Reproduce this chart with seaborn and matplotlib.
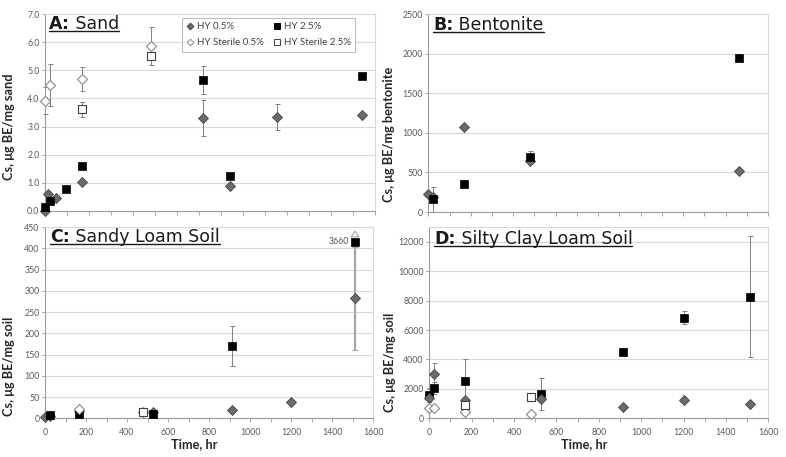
import numpy as np
import pandas as pd
import matplotlib
matplotlib.use("Agg")
import matplotlib.pyplot as plt
import seaborn as sns
from matplotlib.lines import Line2D
from matplotlib.ticker import MultipleLocator, FormatStrFormatter, NullFormatter
from matplotlib.transforms import IdentityTransform

# ---------------- data ----------------
SERIES = ["HY 0.5%", "HY 2.5%", "HY Sterile 0.5%", "HY Sterile 2.5%"]

# Panel A: Sand
A_hy05_x = [0, 12, 48, 168, 720, 840, 1056, 1440]
A_hy05_y = [0.0, 0.62, 0.45, 1.03, 3.30, 0.90, 3.33, 3.41]
A_hy05_e = [0, 0, 0, 0, 0.64, 0, 0.46, 0]
A_hy25_x = [0, 24, 96, 168, 720, 840, 1440]
A_hy25_y = [0.15, 0.37, 0.79, 1.60, 4.64, 1.23, 4.81]
A_hy25_e = [0, 0, 0, 0, 0.50, 0, 0]
A_st05_x = [0, 24, 168, 480]
A_st05_y = [3.92, 4.48, 4.69, 5.86]
A_st05_e = [0.47, 0.74, 0.43, 0.67]
A_st25_x = [168, 480]
A_st25_y = [3.61, 5.51]
A_st25_e = [0.26, 0.32]

# Panel B: Bentonite
B_hy05_x = [0, 24, 168, 480, 1464]
B_hy05_y = [223, 190, 1075, 650, 520]
B_hy05_e = [0, 0, 0, 0, 0]
B_hy25_x = [24, 168, 480, 1464]
B_hy25_y = [160, 350, 700, 1940]
B_hy25_e = [155, 0, 75, 0]

# Panel C: Sandy Loam Soil
C_hy05_x = [0, 24, 168, 528, 912, 1200, 1512]
C_hy05_y = [2, 6, 17, 15, 20, 38, 282]
C_hy05_e = [0, 0, 0, 0, 0, 0, 121]
C_hy25_x = [24, 168, 528, 912, 1512]
C_hy25_y = [8, 9, 9, 170, 3660]
C_hy25_e = [0, 0, 0, 47, 0]
C_st05_x = [168, 480]
C_st05_y = [21, 15]
C_st05_e = [0, 3]
C_st25_x = [480]
C_st25_y = [14]
C_st25_e = [3]
C_CLIP = 415          # off-scale value drawn at the top of the axis
C_OFFSCALE_LABEL = "3660"

# Panel D: Silty Clay Loam Soil
D_hy05_x = [0, 24, 168, 528, 912, 1200, 1512]
D_hy05_y = [1360, 2990, 1240, 1290, 790, 1240, 950]
D_hy05_e = [0, 750, 0, 0, 0, 0, 0]
D_hy25_x = [0, 24, 168, 528, 912, 1200, 1512]
D_hy25_y = [1580, 2080, 2530, 1630, 4500, 6840, 8260]
D_hy25_e = [500, 400, 1480, 1090, 0, 450, 4120]
D_st05_x = [0, 24, 168, 480]
D_st05_y = [680, 720, 450, 270]
D_st05_e = [0, 0, 150, 100]
D_st25_x = [168, 480]
D_st25_y = [900, 1430]
D_st25_e = [300, 150]

# ---------------- style ----------------
sns.set_theme(style="white")
plt.rcParams["font.family"] = ["Lato", "DejaVu Sans"]

STYLE = {
    "HY 0.5%": dict(marker="D", s=26, color="#6b6b6b", edgecolor="#454545", linewidth=0.6),
    "HY 2.5%": dict(marker="s", s=36, color="#000000", edgecolor="#000000", linewidth=0.5),
    "HY Sterile 0.5%": dict(marker="D", s=26, color="#ffffff", edgecolor="#8a8a8a", linewidth=0.8),
    "HY Sterile 2.5%": dict(marker="s", s=40, color="#ffffff", edgecolor="#404040", linewidth=0.8),
}

W, H = 786, 457
fig = plt.figure(figsize=(W / 100, H / 100), dpi=100)

def px_axes(l, t, r, b):
    return fig.add_axes([l / W, 1 - b / H, (r - l) / W, (b - t) / H])

axA = px_axes(45, 14, 375, 211)
axB = px_axes(428.3, 14, 768, 212)
axC = px_axes(45, 227, 373, 418.3)
axD = px_axes(429.3, 227, 768.3, 418.3)

TICK_C = "#595959"

def style_ax(ax, xmax, ymax, ystep, yfmt, xlabels, xmajor):
    ax.set_xlim(0, xmax)
    ax.set_ylim(0, ymax)
    ax.yaxis.set_major_locator(MultipleLocator(ystep))
    ax.yaxis.set_major_formatter(FormatStrFormatter(yfmt))
    ax.xaxis.set_major_locator(MultipleLocator(xmajor))
    ax.xaxis.set_minor_locator(MultipleLocator(100))
    if not xlabels:
        ax.xaxis.set_major_formatter(NullFormatter())
    ax.grid(axis="y", color="#d9d9d9", lw=0.8)
    ax.grid(axis="x", visible=False)
    ax.set_axisbelow(True)
    for side in ["top", "right"]:
        ax.spines[side].set_color("#d9d9d9")
        ax.spines[side].set_linewidth(0.8)
    for side in ["left", "bottom"]:
        ax.spines[side].set_color("#9a9a9a")
        ax.spines[side].set_linewidth(0.8)
    ax.tick_params(axis="x", which="both", direction="out", length=3, width=0.6,
                   color="#9a9a9a", labelsize=6.3, labelcolor=TICK_C, pad=4, bottom=True)
    ax.tick_params(axis="y", which="both", direction="out", length=2, width=0.6,
                   color="#9a9a9a", labelsize=6.3, labelcolor=TICK_C, pad=2, left=True)
    ax.set_xlabel("")
    ax.set_ylabel("")

def plot(ax, name, x, y, e=None, clip=None):
    yy = list(y) if clip is None else [min(v, clip) for v in y]
    if e is not None and any(v > 0 for v in e):
        xs = [a for a, v in zip(x, e) if v > 0]
        ys = [b for b, v in zip(yy, e) if v > 0]
        es = [v for v in e if v > 0]
        ax.errorbar(xs, ys, yerr=es, fmt="none", ecolor="#7f7f7f", elinewidth=0.7,
                    capsize=1.8, capthick=0.7, zorder=2, clip_on=False)
    df = pd.DataFrame({"x": x, "y": yy})
    sns.scatterplot(data=df, x="x", y="y", ax=ax, legend=False, zorder=3,
                    clip_on=False, **STYLE[name])

# Panel A
plot(axA, "HY 0.5%", A_hy05_x, A_hy05_y, A_hy05_e)
plot(axA, "HY 2.5%", A_hy25_x, A_hy25_y, A_hy25_e)
plot(axA, "HY Sterile 0.5%", A_st05_x, A_st05_y, A_st05_e)
plot(axA, "HY Sterile 2.5%", A_st25_x, A_st25_y, A_st25_e)
style_ax(axA, 1500, 7.0, 1.0, "%.1f", False, 100)

# Panel B
plot(axB, "HY 0.5%", B_hy05_x, B_hy05_y, B_hy05_e)
plot(axB, "HY 2.5%", B_hy25_x, B_hy25_y, B_hy25_e)
style_ax(axB, 1600, 2500, 500, "%d", False, 200)

# Panel C
axC.errorbar([C_hy05_x[-1]], [C_hy05_y[-1]], yerr=[C_hy05_e[-1]], fmt="none",
             ecolor="#a6a6a6", elinewidth=1.6, capsize=2, capthick=0.8, zorder=2)
plot(axC, "HY 0.5%", C_hy05_x, C_hy05_y, [0] * len(C_hy05_e))
plot(axC, "HY 2.5%", C_hy25_x, C_hy25_y, C_hy25_e, clip=C_CLIP)
plot(axC, "HY Sterile 0.5%", C_st05_x, C_st05_y, C_st05_e)
plot(axC, "HY Sterile 2.5%", C_st25_x, C_st25_y, C_st25_e)
style_ax(axC, 1600, 450, 50, "%d", True, 200)
axC.annotate(C_OFFSCALE_LABEL, xy=(C_hy25_x[-1], C_CLIP), xytext=(-4.5, 0),
             textcoords="offset points", ha="right", va="center", fontsize=6.3, color=TICK_C)
axC.annotate("", xy=(C_hy25_x[-1], 447), xytext=(C_hy25_x[-1], 428),
             arrowprops=dict(arrowstyle="simple,head_length=0.35,head_width=0.45,tail_width=0.2",
                             fc="white", ec="#8a8a8a", lw=0.6), annotation_clip=False)

# Panel D
plot(axD, "HY 2.5%", D_hy25_x, D_hy25_y, D_hy25_e)
plot(axD, "HY 0.5%", D_hy05_x, D_hy05_y, D_hy05_e)
plot(axD, "HY Sterile 0.5%", D_st05_x, D_st05_y, D_st05_e)
plot(axD, "HY Sterile 2.5%", D_st25_x, D_st25_y, D_st25_e)
style_ax(axD, 1600, 13000, 2000, "%d", True, 200)

# axis labels
ylab_kw = dict(fontsize=9.2, fontweight="bold", color="#262626")
axA.set_ylabel("Cs, μg BE/mg sand", **ylab_kw)
axB.set_ylabel("Cs, μg BE/mg bentonite", **ylab_kw)
axC.set_ylabel("Cs, μg BE/mg soil", **ylab_kw)
axD.set_ylabel("Cs, μg BE/mg soil", **ylab_kw)
axA.yaxis.set_label_coords(-0.091, 0.43)
axB.yaxis.set_label_coords(-0.098, 0.39)
axC.yaxis.set_label_coords(-0.091, 0.27)
axD.yaxis.set_label_coords(-0.098, 0.29)
axC.set_xlabel("Time, hr", **ylab_kw)
axD.set_xlabel("Time, hr", **ylab_kw)
axC.xaxis.set_label_coords(0.454, -0.105)
axD.xaxis.set_label_coords(0.457, -0.105)

# legend (panel A)
handles = []
labels = []
for name in ["HY 0.5%", "HY Sterile 0.5%", "HY 2.5%", "HY Sterile 2.5%"]:
    st = STYLE[name]
    handles.append(Line2D([], [], ls="none", marker=st["marker"],
                          markersize=4 if st["marker"] == "s" else 3.4,
                          markerfacecolor=st["color"], markeredgecolor=st["edgecolor"],
                          markeredgewidth=0.7))
    labels.append(name)
leg = axA.legend(handles, labels, ncol=2, loc="upper left",
                 bbox_to_anchor=(177 / W, 1 - 13 / H), bbox_transform=fig.transFigure,
                 fontsize=7, frameon=True, fancybox=False, edgecolor="#a6a6a6",
                 handlelength=0.8, handletextpad=0.3, columnspacing=1.0,
                 borderpad=0.45, labelspacing=0.72)
leg.get_frame().set_linewidth(0.7)
for t in leg.get_texts():
    t.set_color("#404040")

# panel titles (bold letter + underlined text)
TITLE_FONT = ["DejaVu Sans"]
TITLE_SIZE = 12.5
titles = []
def panel_title(ax, letter, name, x, y):
    t1 = ax.text(x, y, letter + ":", transform=ax.transAxes, fontsize=TITLE_SIZE, family=TITLE_FONT,
                 fontweight="bold", va="top", ha="left", color="#1a1a1a", zorder=5)
    t2 = ax.annotate(" " + name, xy=(1, 0), xycoords=t1, va="bottom", ha="left",
                     fontsize=TITLE_SIZE, family=TITLE_FONT, color="#1a1a1a", zorder=5)
    titles.append((t1, t2))

panel_title(axA, "A", "Sand", 0.012, 0.995)
panel_title(axB, "B", "Bentonite", 0.014, 0.99)
panel_title(axC, "C", "Sandy Loam Soil", 0.015, 0.995)
panel_title(axD, "D", "Silty Clay Loam Soil", 0.014, 0.985)

fig.canvas.draw()
r = fig.canvas.get_renderer()
for t1, t2 in titles:
    b1 = t1.get_window_extent(r)
    b2 = t2.get_window_extent(r)
    yline = b2.y0 + 1.5
    fig.add_artist(Line2D([b1.x0, b2.x1], [yline, yline], transform=IdentityTransform(),
                          color="#1a1a1a", lw=1.0))

fig.savefig("out.png", dpi=100, facecolor="white")
